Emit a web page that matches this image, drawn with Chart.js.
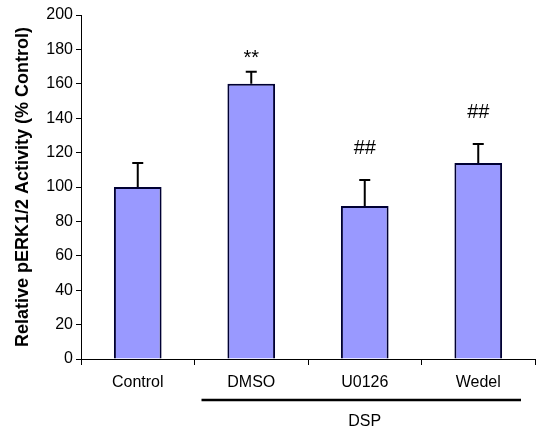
<!DOCTYPE html>
<html lang="en">
<head>
    <meta charset="UTF-8">
    <title>Relative pERK1/2 Activity</title>
    <script src="https://cdn.jsdelivr.net/npm/chart.js"></script>
    <style>
        html, body { margin: 0; padding: 0; background: #fff; }
        #wrap { width: 541px; height: 431px; }
    </style>
</head>
<body>
    <div id="wrap"><canvas id="barChart"></canvas></div>

    <script>
        // Values
        var categories = ["Control", "DMSO", "U0126", "Wedel"];
        var activity = [100, 160, 89, 114];
        var errors = [14, 7, 15, 11];
        var marks = ["", "**", "##", "##"];
        var yTicks = [0, 20, 40, 60, 80, 100, 120, 140, 160, 180, 200];
        var groupLabel = "DSP";
        var groupFrom = 1, groupTo = 3;

        var FONT = "Arial, 'Liberation Sans', sans-serif";

        // upper error bars + significance marks
        var errorBars = {
            id: 'errorBars',
            afterDatasetsDraw: function(chart) {
                var ctx = chart.ctx;
                var y = chart.scales.y;
                var bars = chart.getDatasetMeta(0).data;
                ctx.save();
                ctx.strokeStyle = '#000';
                ctx.lineWidth = 2;
                ctx.fillStyle = '#000';
                ctx.textAlign = 'center';
                ctx.textBaseline = 'alphabetic';
                ctx.font = "20px " + FONT;
                bars.forEach(function(bar, i) {
                    var top = y.getPixelForValue(activity[i] + errors[i]);
                    var base = y.getPixelForValue(activity[i]);
                    ctx.beginPath();
                    ctx.moveTo(bar.x, base);
                    ctx.lineTo(bar.x, top);
                    ctx.moveTo(bar.x - 5.5, top);
                    ctx.lineTo(bar.x + 5.5, top);
                    ctx.stroke();
                    if (marks[i]) {
                        ctx.fillText(marks[i], bar.x, top - (marks[i] === "**" ? 8 : 26));
                    }
                });
                ctx.restore();
            }
        };

        // "DSP" bracket under the treated groups
        var groupLine = {
            id: 'groupLine',
            afterDraw: function(chart) {
                var ctx = chart.ctx;
                var x = chart.scales.x;
                var half = (x.getPixelForValue(1) - x.getPixelForValue(0)) / 2;
                var x0 = x.getPixelForValue(groupFrom) - half + 7;
                var x1 = x.getPixelForValue(groupTo) + half - 14;
                var ly = chart.chartArea.bottom + 41;
                ctx.save();
                ctx.strokeStyle = '#000';
                ctx.lineWidth = 2.5;
                ctx.beginPath();
                ctx.moveTo(x0, ly);
                ctx.lineTo(x1, ly);
                ctx.stroke();
                ctx.fillStyle = '#000';
                ctx.font = "16px " + FONT;
                ctx.textAlign = 'center';
                ctx.textBaseline = 'middle';
                ctx.fillText(groupLabel, (x.getPixelForValue(groupFrom) + x.getPixelForValue(groupTo)) / 2, ly + 22);
                ctx.restore();
            }
        };

        var ctx = document.getElementById('barChart').getContext('2d');
        var barChart = new Chart(ctx, {
            type: 'bar',
            data: {
                labels: categories,
                datasets: [{
                    data: activity,
                    backgroundColor: '#9999ff',
                    borderColor: '#000033',
                    borderWidth: 2,
                    borderSkipped: 'bottom',
                    barPercentage: 0.42,
                    categoryPercentage: 1.0
                }]
            },
            options: {
                responsive: true,
                maintainAspectRatio: false,
                animation: false,
                layout: { padding: { top: 15, right: 6, left: 0, bottom: 0 } },
                plugins: {
                    legend: { display: false },
                    tooltip: { enabled: false }
                },
                scales: {
                    x: {
                        grid: {
                            offset: true,
                            drawOnChartArea: false,
                            drawTicks: true,
                            tickLength: 6,
                            color: '#000'
                        },
                        border: { color: '#000', width: 1 },
                        ticks: {
                            color: '#000',
                            font: { family: FONT, size: 16 },
                            padding: 8
                        },
                        afterFit: function(scale) { scale.height = 72; }
                    },
                    y: {
                        min: 0,
                        max: 200,
                        afterBuildTicks: function(scale) {
                            scale.ticks = yTicks.map(function(v) { return { value: v }; });
                        },
                        grid: {
                            drawOnChartArea: false,
                            drawTicks: true,
                            tickLength: 5,
                            color: '#000'
                        },
                        border: { color: '#000', width: 1 },
                        ticks: {
                            color: '#000',
                            font: { family: FONT, size: 16 },
                            padding: 3
                        },
                        title: {
                            display: true,
                            text: 'Relative pERK1/2 Activity (% Control)',
                            color: '#000',
                            font: { family: FONT, size: 18, weight: 'bold' },
                            padding: { top: 12, bottom: 6 }
                        },
                        afterFit: function(scale) { scale.width = 81; }
                    }
                }
            },
            plugins: [errorBars, groupLine]
        });
    </script>
</body>
</html>
